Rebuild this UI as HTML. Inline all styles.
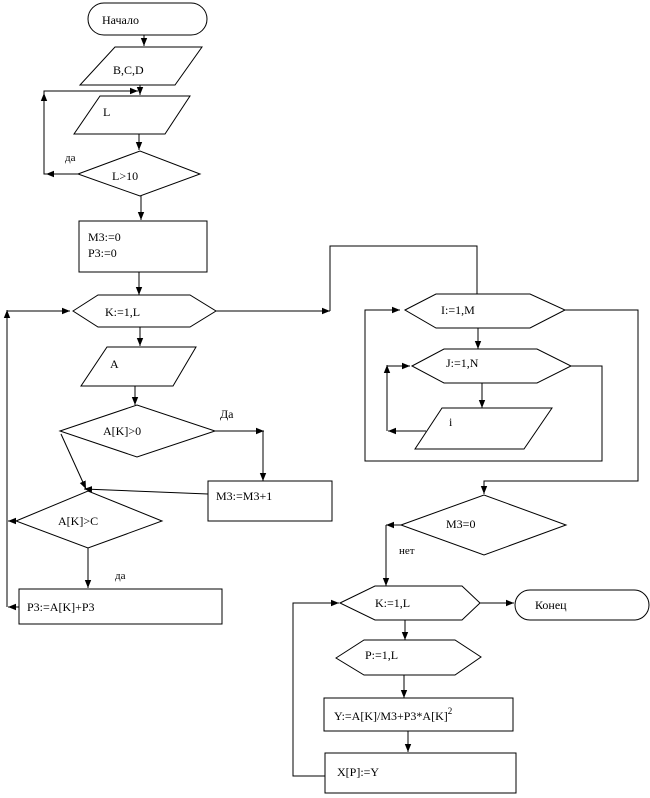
<!DOCTYPE html>
<html><head><meta charset="utf-8"><style>
html,body{margin:0;padding:0;background:#fff}
svg{display:block}
text{font-family:"Liberation Serif","DejaVu Serif",serif;font-size:12px;fill:#000}
</style></head><body>
<svg width="650" height="798" viewBox="0 0 650 798" xmlns="http://www.w3.org/2000/svg">
<defs>
<marker id="a" viewBox="0 0 10 10" refX="10" refY="5" markerWidth="8" markerHeight="8" orient="auto" markerUnits="userSpaceOnUse"><path d="M0,1 L10,5 L0,9 z" fill="#000"/></marker>
</defs>
<g fill="none" stroke="#000" stroke-width="1">
<!-- Начало -->
<rect x="88" y="3" width="119" height="32" rx="16" ry="16"/>
<line x1="144" y1="35" x2="144" y2="46" marker-end="url(#a)"/>
<polygon points="115,47 202,47 175,85 80,85"/>
<line x1="140" y1="85" x2="140" y2="95" marker-end="url(#a)"/>
<polyline points="78,174 44,174 44,91 138,91" />
<line x1="44" y1="110" x2="44" y2="93" marker-end="url(#a)"/>
<line x1="120" y1="91" x2="138" y2="91" marker-end="url(#a)"/>
<line x1="78" y1="174" x2="46" y2="174" marker-end="url(#a)"/>
<polygon points="100,96 190,96 165,134 74,134"/>
<line x1="139" y1="134" x2="139" y2="150" marker-end="url(#a)"/>
<polygon points="78,174 140,151 200,174 140,196"/>
<line x1="141" y1="196" x2="141" y2="220" marker-end="url(#a)"/>
<rect x="79" y="221" width="128" height="51"/>
<line x1="139" y1="272" x2="139" y2="295" marker-end="url(#a)"/>
<polygon points="73,311 98,295 190,295 216,311 190,327 98,327"/>
<line x1="216" y1="311" x2="330" y2="311" marker-end="url(#a)"/>
<polyline points="330,311 330,246 477,246 477,294"/>
<!-- left loop -->
<line x1="7" y1="607" x2="7" y2="310"/>
<line x1="7" y1="330" x2="7" y2="310" marker-end="url(#a)"/>
<line x1="7" y1="311" x2="70" y2="311" marker-end="url(#a)"/>
<line x1="140" y1="327" x2="140" y2="346" marker-end="url(#a)"/>
<polygon points="107,347 196,347 173,386 81,386"/>
<line x1="135" y1="386" x2="135" y2="405" marker-end="url(#a)"/>
<polygon points="60,431 137,405 215,431 137,457"/>
<line x1="215" y1="431" x2="264" y2="431" marker-end="url(#a)"/>
<line x1="263" y1="431" x2="263" y2="481" marker-end="url(#a)"/>
<rect x="208" y="481" width="124" height="40"/>
<line x1="208" y1="494" x2="84" y2="489" marker-end="url(#a)"/>
<line x1="61" y1="434" x2="86" y2="489" marker-end="url(#a)"/>
<polygon points="16,521 88,491 162,521 88,548"/>
<line x1="16" y1="521" x2="8" y2="521" marker-end="url(#a)"/>
<line x1="88" y1="548" x2="88" y2="588" marker-end="url(#a)"/>
<rect x="19" y="589" width="203" height="35"/>
<line x1="19" y1="607" x2="8" y2="607" marker-end="url(#a)"/>
<!-- right side -->
<polygon points="405,310 436,294 530,294 565,310 530,328 436,328"/>
<polyline points="400,310 365,310 365,461 602,461 602,366 571,366"/>
<line x1="380" y1="310" x2="400" y2="310" marker-end="url(#a)"/>
<polyline points="565,310 638,310 638,481 484,481 484,494"/>
<line x1="484" y1="485" x2="484" y2="494" marker-end="url(#a)"/>
<line x1="478" y1="328" x2="478" y2="349" marker-end="url(#a)"/>
<polygon points="412,366 444,349 537,349 571,366 537,383 444,383"/>
<line x1="482" y1="383" x2="482" y2="408" marker-end="url(#a)"/>
<polygon points="442,408 552,408 524,449 415,449"/>
<line x1="426" y1="431" x2="388" y2="431" marker-end="url(#a)"/>
<line x1="387" y1="431" x2="387" y2="365" marker-end="url(#a)"/>
<line x1="387" y1="366" x2="410" y2="366" marker-end="url(#a)"/>
<polygon points="401,525 484,495 566,525 484,555"/>
<line x1="401" y1="525" x2="386" y2="525" marker-end="url(#a)"/>
<line x1="386" y1="525" x2="386" y2="586" marker-end="url(#a)"/>
<polygon points="340,603 375,586 462,586 480,603 462,620 375,620"/>
<line x1="480" y1="603" x2="514" y2="603" marker-end="url(#a)"/>
<rect x="515" y="590" width="134" height="30" rx="15" ry="15"/>
<polyline points="325,776 293,776 293,603 338,603"/>
<line x1="320" y1="603" x2="339" y2="603" marker-end="url(#a)"/>
<line x1="405" y1="620" x2="405" y2="640" marker-end="url(#a)"/>
<polygon points="336,658 364,640 455,640 481,657 455,675 364,675"/>
<line x1="404" y1="675" x2="404" y2="698" marker-end="url(#a)"/>
<rect x="324" y="698" width="189" height="33"/>
<line x1="408" y1="731" x2="408" y2="752" marker-end="url(#a)"/>
<rect x="325" y="753" width="191" height="40"/>
</g>
<text x="102" y="24">Начало</text>
<text x="113" y="74">B,C,D</text>
<text x="103" y="116">L</text>
<text x="65" y="161" style="font-size:11px">да</text>
<text x="112" y="180">L&gt;10</text>
<text x="88" y="241">M3:=0</text>
<text x="88" y="257">P3:=0</text>
<text x="105" y="316">K:=1,L</text>
<text x="110" y="368">A</text>
<text x="103" y="435">A[K]&gt;0</text>
<text x="220" y="418">Да</text>
<text x="216" y="500">M3:=M3+1</text>
<text x="58" y="525">A[K]&gt;C</text>
<text x="115" y="579" style="font-size:11px">да</text>
<text x="27" y="611">P3:=A[K]+P3</text>
<text x="441" y="314">I:=1,M</text>
<text x="446" y="367">J:=1,N</text>
<text x="449" y="426">i</text>
<text x="446" y="528">M3=0</text>
<text x="399" y="554" style="font-size:11px">нет</text>
<text x="375" y="607">K:=1,L</text>
<text x="535" y="609">Конец</text>
<text x="365" y="659">P:=1,L</text>
<text x="334" y="720">Y:=A[K]/M3+P3*A[K]<tspan dy="-6" style="font-size:9px">2</tspan></text>
<text x="337" y="776">X[P]:=Y</text>
</svg>
</body></html>
